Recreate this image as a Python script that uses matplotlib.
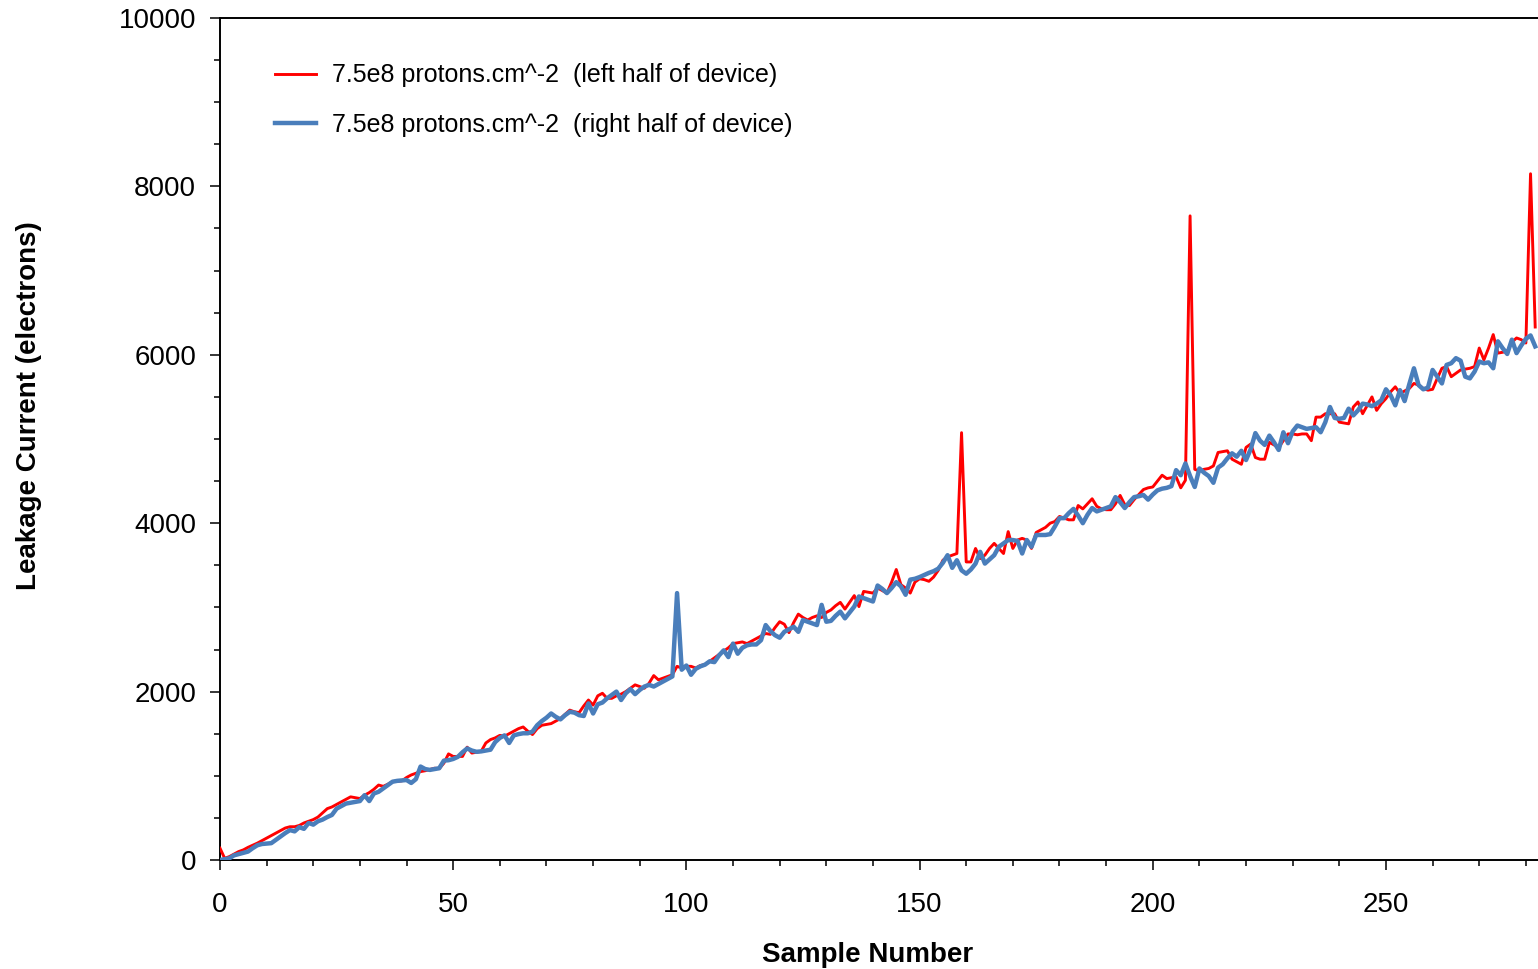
import numpy as np
import matplotlib
matplotlib.use("Agg")
import matplotlib.pyplot as plt
from matplotlib.ticker import MultipleLocator

plt.rcParams['font.family'] = ['Liberation Sans', 'DejaVu Sans']

label_left = "7.5e8 protons.cm^-2  (left half of device)"
label_right = "7.5e8 protons.cm^-2  (right half of device)"

left_half = [
    140, 20, 40, 70, 100, 120, 150, 175, 200, 230,
    260, 290, 320, 350, 380, 395, 395, 410, 440, 460,
    480, 510, 560, 610, 630, 660, 690, 720, 750, 740,
    730, 770, 800, 840, 890, 875, 900, 930, 935, 940,
    980, 1010, 1030, 1050, 1060, 1075, 1090, 1085, 1150, 1260,
    1230, 1230, 1230, 1340, 1270, 1280, 1290, 1390, 1430, 1450,
    1480, 1470, 1500, 1530, 1560, 1580, 1530, 1490, 1560, 1600,
    1610, 1620, 1650, 1680, 1730, 1780, 1760, 1750, 1830, 1900,
    1840, 1950, 1980, 1920, 1920, 1950, 1970, 2000, 2040, 2080,
    2060, 2040, 2100, 2190, 2140, 2160, 2180, 2200, 2300, 2280,
    2300, 2300, 2280, 2310, 2320, 2360, 2400, 2440, 2480, 2520,
    2570, 2580, 2590, 2570, 2600, 2630, 2660, 2690, 2680, 2760,
    2830, 2800, 2700, 2820, 2920, 2880, 2850, 2880, 2900, 2880,
    2940, 2970, 3020, 3060, 2980, 3060, 3140, 3010, 3190, 3180,
    3170, 3230, 3200, 3170, 3300, 3450, 3270, 3230, 3170, 3300,
    3340, 3330, 3310, 3360, 3440, 3560, 3600, 3620, 3640, 5075,
    3540, 3540, 3700, 3580, 3620, 3700, 3760, 3700, 3640, 3900,
    3700, 3800, 3820, 3800, 3700, 3890, 3920, 3950, 4000, 4020,
    4080, 4060, 4040, 4040, 4210, 4170, 4230, 4290, 4200, 4170,
    4160, 4160, 4230, 4330, 4220, 4210, 4280, 4340, 4400, 4420,
    4430, 4500, 4570, 4530, 4540, 4550, 4420, 4510, 7650, 4640,
    4620, 4640, 4650, 4680, 4840, 4850, 4860, 4760, 4730, 4700,
    4900, 4940, 4780, 4760, 4760, 4960, 4930, 4900, 4980, 5060,
    5060, 5050, 5060, 5060, 4980, 5260, 5260, 5300, 5300, 5300,
    5200, 5190, 5180, 5380, 5440, 5300, 5400, 5500, 5340, 5420,
    5480, 5560, 5620, 5540, 5570, 5600, 5660, 5640, 5600, 5580,
    5590, 5720, 5840, 5860, 5740, 5780, 5820, 5830, 5840, 5860,
    6080, 5940, 6080, 6240, 6020, 6030, 6040, 6150, 6200, 6180,
    6140, 8150, 6330,
]

right_half = [
    0, 10, 20, 55, 70, 85, 100, 140, 175, 190,
    195, 200, 240, 280, 320, 355, 340, 390, 370, 440,
    420, 460, 480, 510, 535, 610, 640, 670, 680, 690,
    700, 770, 700, 790, 810, 850, 890, 930, 940, 945,
    950, 915, 960, 1110, 1080, 1070, 1080, 1090, 1180, 1185,
    1200, 1225, 1280, 1325, 1300, 1285, 1290, 1300, 1310, 1400,
    1450, 1480, 1390, 1480, 1495, 1505, 1505, 1525, 1600, 1650,
    1690, 1740, 1700, 1670, 1720, 1760, 1750, 1720, 1710, 1860,
    1740, 1850, 1870, 1920, 1960, 2000, 1900, 1980, 2030, 1970,
    2020, 2060, 2080, 2060, 2090, 2120, 2150, 2180, 3170, 2260,
    2310, 2200, 2270, 2300, 2320, 2360, 2350, 2430, 2490, 2410,
    2570, 2450, 2520, 2550, 2560, 2560, 2610, 2790, 2720, 2670,
    2640, 2710, 2740, 2770, 2710, 2850, 2830, 2810, 2790, 3030,
    2830, 2840, 2900, 2950, 2870, 2940, 3010, 3130, 3110, 3090,
    3070, 3260, 3220, 3170, 3230, 3300, 3250, 3150, 3330, 3340,
    3360, 3385, 3410, 3430, 3460, 3530, 3620, 3470, 3560, 3440,
    3400, 3450, 3520, 3660, 3520, 3570, 3620, 3720, 3760, 3800,
    3800, 3790, 3640, 3800, 3720, 3860, 3860, 3860, 3870, 3960,
    4060, 4060, 4120, 4170, 4090, 4000, 4100, 4180, 4140, 4160,
    4180, 4200, 4310, 4250, 4180, 4250, 4310, 4320, 4335, 4280,
    4340, 4390, 4410, 4420, 4440, 4630, 4570, 4710, 4560, 4430,
    4650, 4600, 4560, 4480, 4660, 4700, 4770, 4830, 4790, 4860,
    4750, 4880, 5070, 4980, 4930, 5040, 4960, 4870, 5080, 4950,
    5090, 5160, 5140, 5120, 5130, 5140, 5080, 5200, 5380, 5250,
    5240, 5250, 5360, 5280, 5340, 5420, 5410, 5390, 5420, 5460,
    5590, 5520, 5400, 5580, 5450, 5650, 5840, 5640, 5590, 5610,
    5820, 5740, 5660, 5880, 5900, 5960, 5930, 5740, 5720, 5800,
    5920, 5900, 5910, 5840, 6160, 6080, 6010, 6180, 6020, 6110,
    6190, 6230, 6100,
]

sample_number = np.arange(len(left_half))

fig = plt.figure(figsize=(15.38, 9.69), dpi=100)
ax = fig.add_axes([220/1538, (969-860)/969, 1 - 220/1538, (860-18)/969])

ax.plot(sample_number, left_half, color='#FF0000', lw=2.1, label=label_left, zorder=3)
ax.plot(sample_number, right_half, color='#4A7EBB', lw=3.2, label=label_right, zorder=4)

ax.set_xlim(0, 282.6)
ax.set_ylim(0, 10000)
ax.xaxis.set_major_locator(MultipleLocator(50))
ax.xaxis.set_minor_locator(MultipleLocator(10))
ax.yaxis.set_major_locator(MultipleLocator(2000))
ax.yaxis.set_minor_locator(MultipleLocator(500))

ax.spines['right'].set_visible(False)
for s in ['left', 'bottom', 'top']:
    ax.spines[s].set_linewidth(1.4)

ax.tick_params(axis='both', which='major', direction='out', length=7.2, width=1.1,
               labelsize=20, colors='black')
ax.tick_params(axis='both', which='minor', direction='out', length=4.3, width=1.1)
ax.tick_params(axis='x', which='major', pad=16)
ax.tick_params(axis='y', which='major', pad=10)
ax.tick_params(top=False, right=False, which='both')

ax.set_xlabel('Sample Number', fontsize=20, fontweight='bold')
ax.set_ylabel('Leakage Current (electrons)', fontsize=20, fontweight='bold')
ax.xaxis.set_label_coords(0.491, -0.097)
ax.yaxis.set_label_coords(-0.135, 0.54)

leg = ax.legend(loc='upper left', bbox_to_anchor=(0.0417, 0.946), frameon=False,
                fontsize=18, handlelength=1.64, handletextpad=0.64,
                labelspacing=1.01, borderpad=0, borderaxespad=0)

fig.savefig('out.png', dpi=100)
